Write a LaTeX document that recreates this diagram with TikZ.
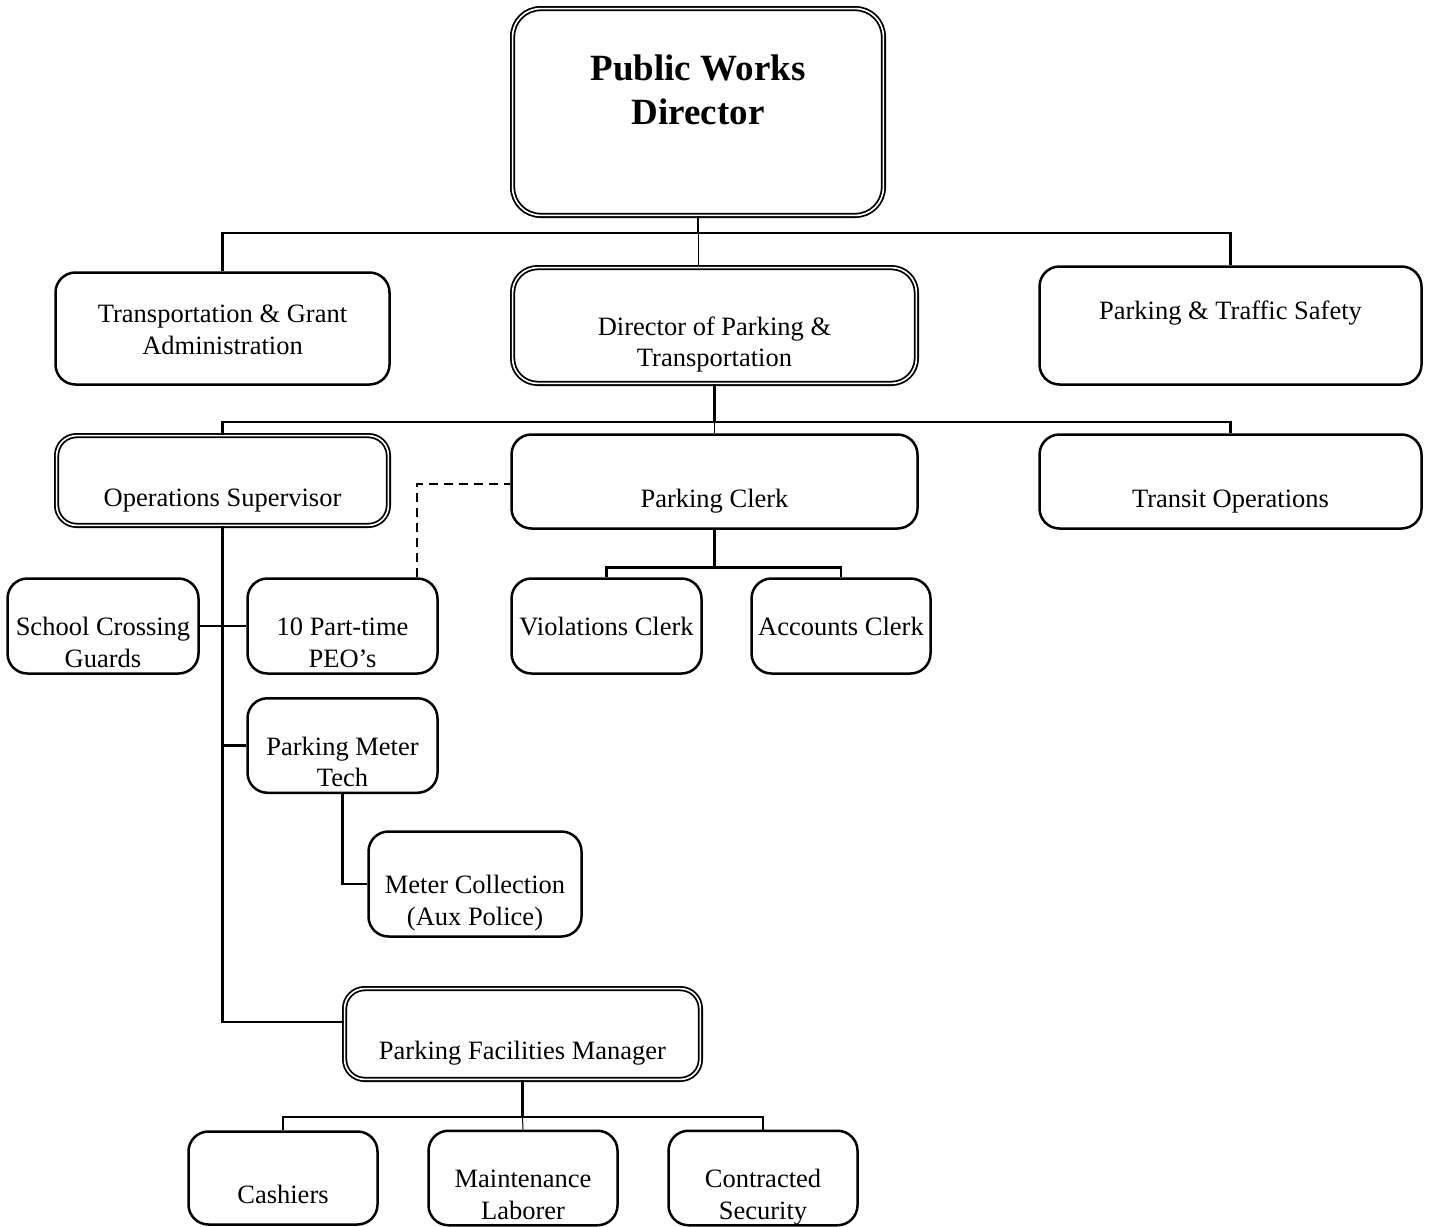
\documentclass[tikz,border=0pt]{standalone}
\usepackage{fontspec}
\setmainfont{Liberation Serif}

% strut that sits a little lower, as the lines do in the chart
\newcommand{\vstrut}{\rule[\dimexpr 3.5pt-.3\baselineskip\relax]{0pt}{\baselineskip}}

\tikzset{
	box/.style={draw, line width=2.5pt, rounded corners=20pt, align=center, inner sep=0pt,
		font=\fontsize{26.5}{31.5}\selectfont},
	dbox/.style={box, line width=1.8pt, double, double distance=1.6pt},
	link/.style={line width=2.5pt},
	thinlink/.style={line width=1pt},
	dashlink/.style={line width=1.5pt, dash pattern=on 9pt off 6pt},
}

\begin{document}
\begin{tikzpicture}[x=1pt,y=-1pt]
	\useasboundingbox (0,0) rectangle (1432,1226);

	\node[dbox, rounded corners=28pt, minimum width=370.8pt, minimum height=206.8pt, font=\fontsize{37}{44}\selectfont\bfseries] (pwd) at (698,112) {\vstrut Public Works\\Director\\\vstrut};

	\node[box, minimum width=334pt, minimum height=112pt] (tga) at (222.5,328.5) {\vstrut Transportation \& Grant\\Administration\vstrut};
	\node[dbox, rounded corners=25pt, minimum width=403.8pt, minimum height=115.8pt] (dop) at (714.5,325.5) {\vstrut\\Director of Parking \&\\Transportation\vstrut};
	\node[box, minimum width=382pt, minimum height=118pt] (pts) at (1230.5,325.5) {\vstrut Parking \& Traffic Safety\\\vstrut};

	\node[dbox, minimum width=331.8pt, minimum height=89.8pt] (ops) at (222.5,480.5) {\vstrut\\Operations Supervisor\vstrut};
	\node[box, minimum width=406pt, minimum height=94pt] (clerk) at (714.5,481.5) {\vstrut\\Parking Clerk\vstrut};
	\node[box, minimum width=382pt, minimum height=94pt] (transit) at (1230.5,481.5) {\vstrut\\Transit Operations\vstrut};

	\node[box, minimum width=191pt, minimum height=95pt] (school) at (103,626) {\vstrut\\School Crossing\\Guards\vstrut};
	\node[box, minimum width=190pt, minimum height=95pt] (peo) at (342.5,626) {\vstrut\\10 Part-time\\PEO's\vstrut};
	\node[box, minimum width=190pt, minimum height=95pt] (viol) at (606.5,626) {\vstrut Violations Clerk\vstrut};
	\node[box, minimum width=179pt, minimum height=95pt] (acct) at (841,626) {\vstrut Accounts Clerk\vstrut};

	\node[box, minimum width=190pt, minimum height=94pt] (tech) at (342.5,745.5) {\vstrut\\Parking Meter\\Tech\vstrut};
	\node[box, minimum width=213pt, minimum height=105pt] (coll) at (475,884) {\vstrut\\Meter Collection\\(Aux Police)\vstrut};

	\node[dbox, minimum width=355.8pt, minimum height=90.8pt] (pfm) at (522.5,1034) {\vstrut\\Parking Facilities Manager\vstrut};

	\node[box, minimum width=189pt, minimum height=93pt] (cash) at (283,1178) {\vstrut\\Cashiers\vstrut};
	\node[box, minimum width=189pt, minimum height=93pt] (maint) at (523,1178) {\vstrut\\Maintenance\\Laborer\vstrut};
	\node[box, minimum width=189pt, minimum height=93pt] (sec) at (763,1178) {\vstrut\\Contracted\\Security\vstrut};

	% top level
	\draw[link] (pwd.south) -- ++(0,16.5) coordinate (topbus);
	\draw[link] (tga.north) |- (topbus) -| (pts.north);
	\draw[thinlink] (topbus) -- (topbus |- dop.north);

	% second level
	\draw[link] (dop.south) -- ++(0,37.5) coordinate (midbus);
	\draw[link] (ops.north) |- (midbus) -| (transit.north);
	\draw[thinlink] (midbus) -- (clerk.north);

	% operations
	\draw[link] (ops.south) |- ([yshift=12pt]pfm.west);
	\draw[link] (school.east) -- (peo.west);
	\draw[link] (ops.south |- tech.west) -- (tech.west);
	\draw[link] (tech.south) |- (coll.west);
	\draw[dashlink] ([xshift=74.5pt]peo.north) |- ([yshift=-2.5pt]clerk.west);

	% clerks
	\draw[link] (clerk.south) -- ++(0,37.5) coordinate (clerkbus);
	\draw[link] (viol.north) |- (clerkbus) -| (acct.north);

	% facilities
	\draw[link] (pfm.south) -- ++(0,36.6) coordinate (lowbus);
	\draw[link] (cash.north) |- (lowbus) -| (sec.north);
	\draw[thinlink] (lowbus) -- (maint.north);
\end{tikzpicture}
\end{document}
